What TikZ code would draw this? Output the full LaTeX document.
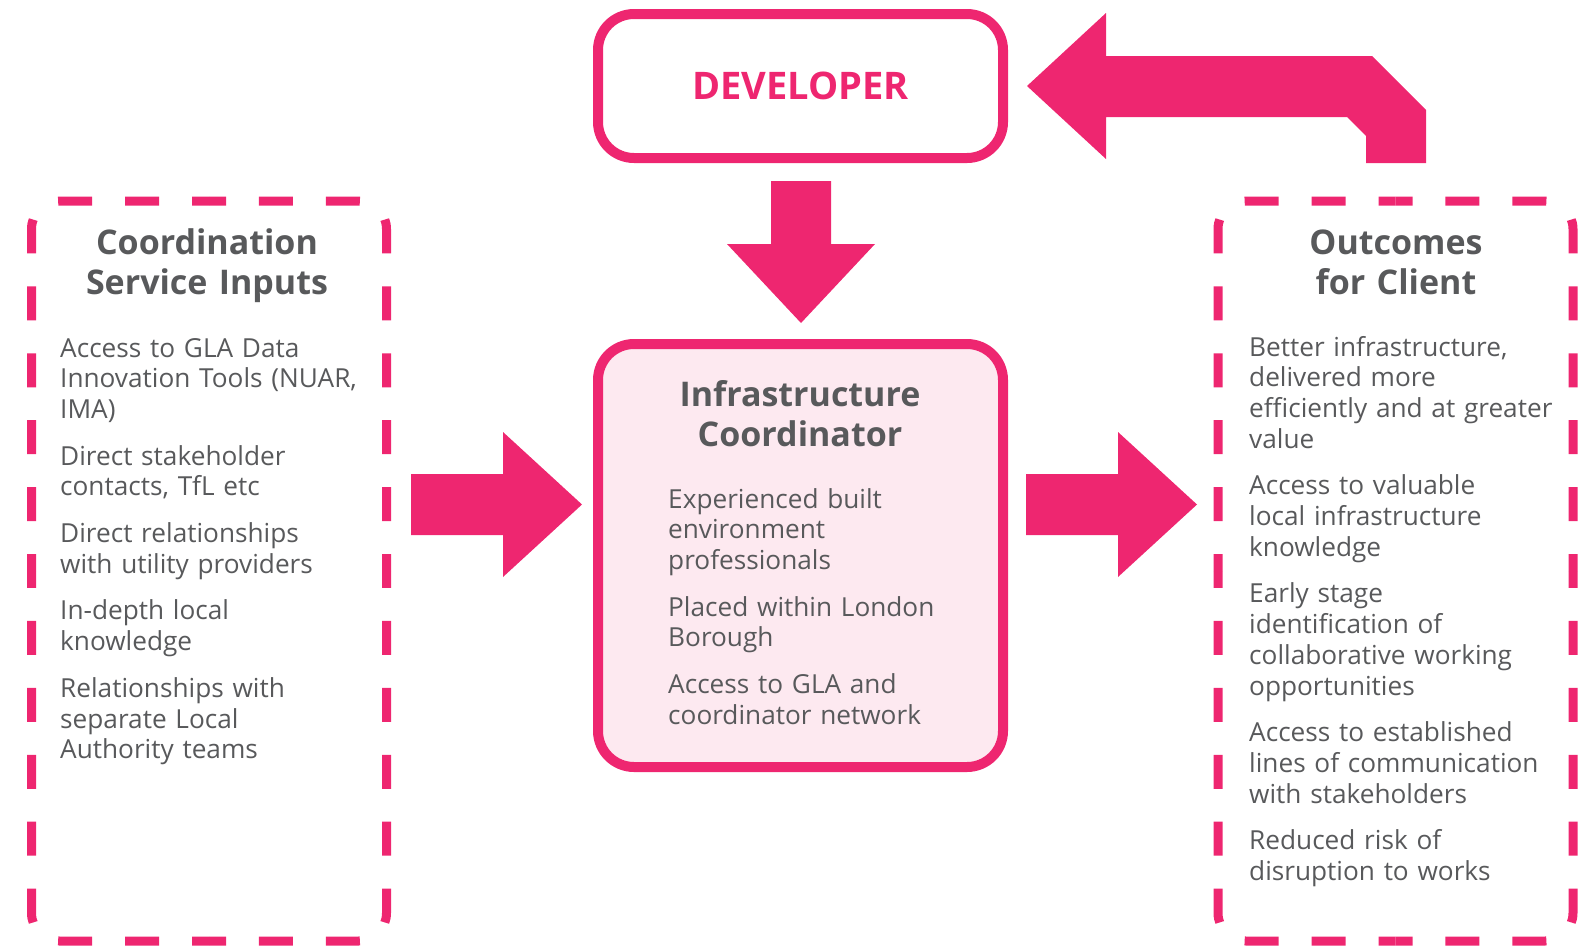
\documentclass[tikz,border=0pt]{standalone}
\usepackage{fontspec}
\setmainfont{Open Sans}

\definecolor{glapink}{HTML}{EE2670}
\definecolor{glagrey}{HTML}{58595B}
\definecolor{glablush}{HTML}{FDE9F0}

\tikzset{
  devbox/.style={draw=glapink,line width=10pt,rounded corners=36pt,minimum width=405pt,minimum height=144pt,inner sep=0pt},
  dashbox/.style={minimum width=355pt,minimum height=740pt,inner sep=0pt,outer sep=0pt},
  dashside/.style={draw=glapink,line width=9pt,rounded corners=28pt,dash pattern=on 34pt off 32.935pt,dash phase=17pt},
  blockarrow/.style={fill=glapink},
  titletext/.style={text=glagrey,font=\fontsize{34}{40}\selectfont\bfseries,align=center,text width=330pt,anchor=base,inner sep=0pt},
  listtext/.style={text=glagrey,font=\fontsize{26.2}{30.7}\selectfont,align=left,text width=400pt,anchor=base west,inner sep=0pt}
}

\begin{document}
\begin{tikzpicture}[x=1pt,y=-1pt]
  \useasboundingbox (0,0) rectangle (1596,946);

  % boxes
  \node [devbox,text=glapink,font=\fontsize{38}{44}\selectfont\bfseries] (developer) at (800.5,86) {DEVELOPER};
  \node [devbox,fill=glablush,minimum height=423pt] (coordinator) at (800.5,555.5) {};
  \node [dashbox] (inputs) at (209,571) {};
  \node [dashbox] (outcomes) at (1395.5,571) {};
  \foreach \b in {inputs,outcomes} {
    \draw [dashside] (\b.north) -- (\b.north east) -- (\b.east);
    \draw [dashside] (\b.north) -- (\b.north west) -- (\b.west);
    \draw [dashside] (\b.south) -- (\b.south east) -- (\b.east);
    \draw [dashside] (\b.south) -- (\b.south west) -- (\b.west);
  }

  % titles
  \node [titletext] (inputstitle) at (207,254) {Coordination\\Service Inputs};
  \node [titletext] (coordtitle) at (800,406) {Infrastructure\\Coordinator};
  \node [titletext] (outcomestitle) at (1396,254) {Outcomes\\for Client};

  % lists
  \node [listtext] (inputslist) at (60,357) {Access to GLA Data\\Innovation Tools (NUAR,\\IMA)\\[16pt]
    Direct stakeholder\\contacts, TfL etc\\[16pt]
    Direct relationships\\with utility providers\\[16pt]
    In-depth local\\knowledge\\[16pt]
    Relationships with\\separate Local\\Authority teams};
  \node [listtext] (coordlist) at (668,508) {Experienced built\\environment\\professionals\\[16pt]
    Placed within London\\Borough\\[16pt]
    Access to GLA and\\coordinator network};
  \node [listtext] (outcomeslist) at (1249,356) {Better infrastructure,\\delivered more\\efficiently and at greater\\value\\[16pt]
    Access to valuable\\local infrastructure\\knowledge\\[16pt]
    Early stage\\identification of\\collaborative working\\opportunities\\[16pt]
    Access to established\\lines of communication\\with stakeholders\\[16pt]
    Reduced risk of\\disruption to works};

  % arrows
  \fill [blockarrow] (771,181) -- (831,181) -- (831,244) -- (875,244) -- (801,323)
    -- (727,244) -- (771,244) -- cycle;
  \foreach \dx in {0,615}
    \fill [blockarrow,xshift=\dx] (411,474) -- (503,474) -- (503,432) -- (582,504.5)
      -- (503,577) -- (503,535) -- (411,535) -- cycle;
  \fill [blockarrow] (1027,86) -- (1106,13) -- (1106,56) -- (1372,56) -- (1426,110)
    -- (1426,163) -- (1366,163) -- (1366,136) -- (1347,117) -- (1106,117) -- (1106,159) -- cycle;
\end{tikzpicture}
\end{document}
